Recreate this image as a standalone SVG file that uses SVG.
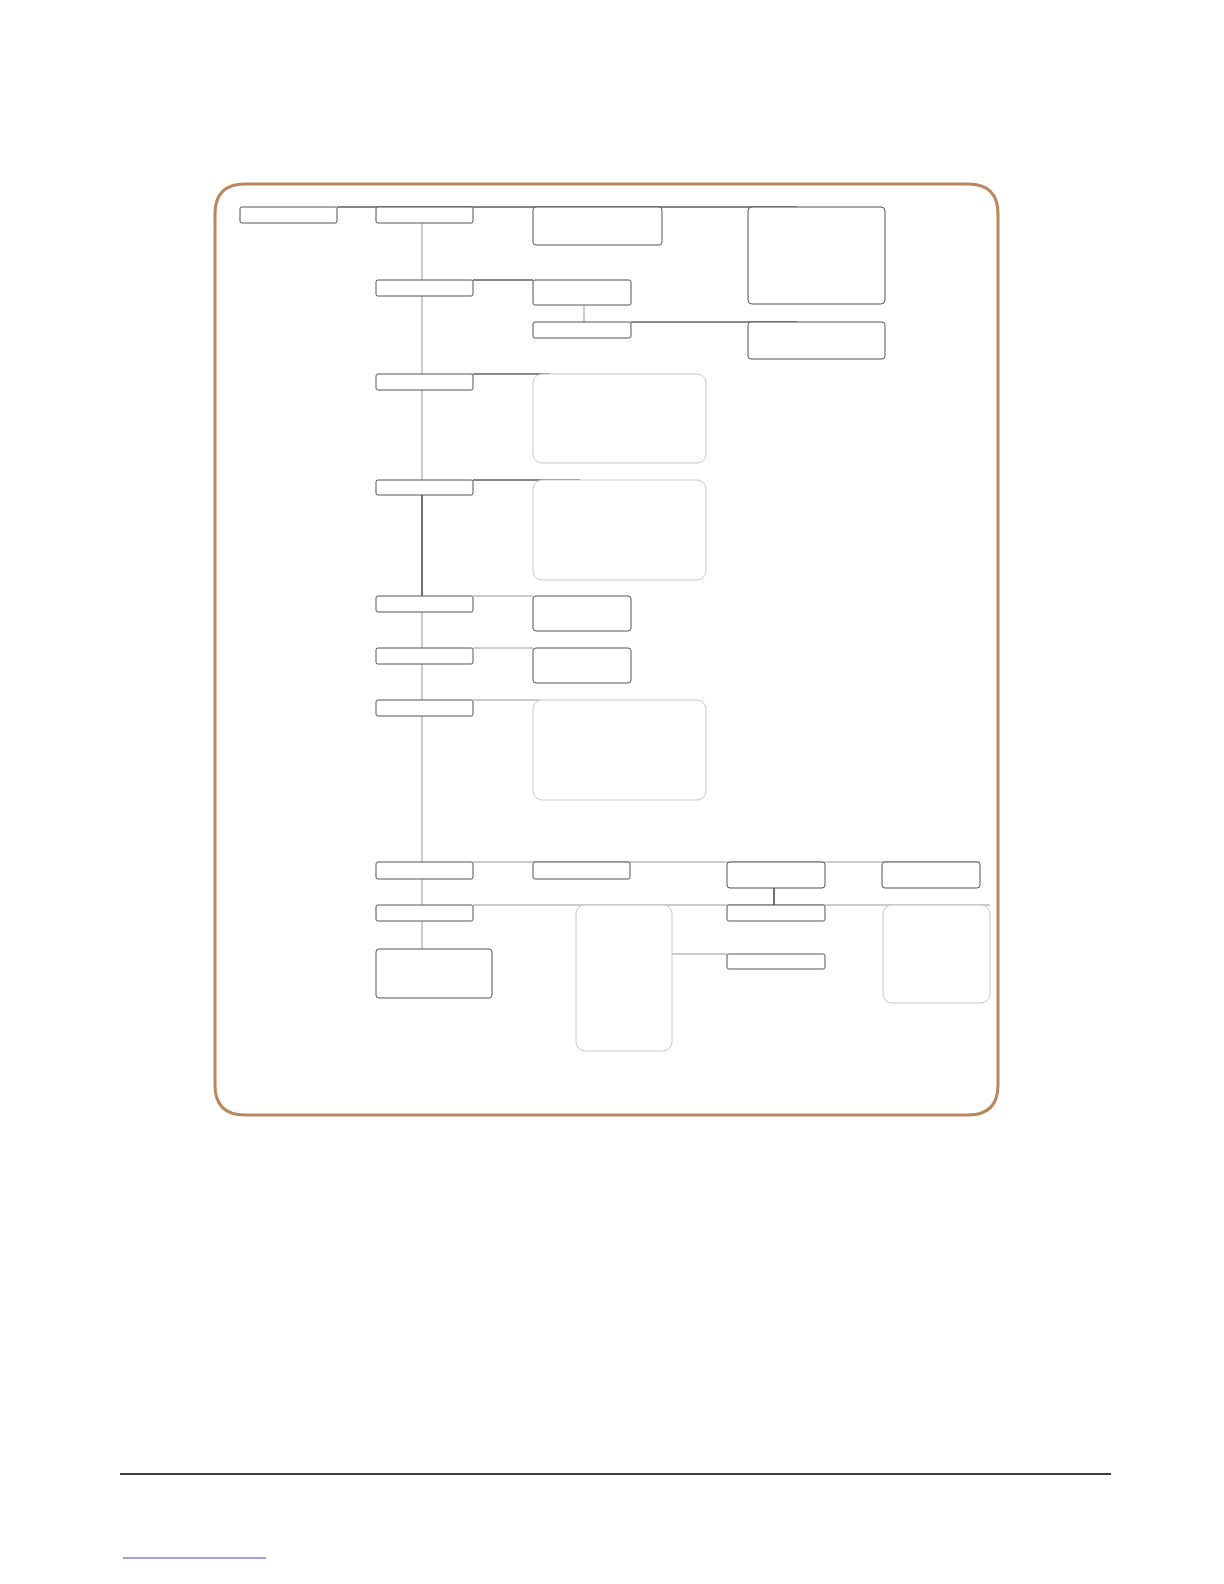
<svg xmlns="http://www.w3.org/2000/svg" width="1224" height="1584" viewBox="0 0 1224 1584">
<style>
.n{fill:#fff;stroke:#555;stroke-width:1}
.l{fill:#fff;stroke:#c8c8c8;stroke-width:1}
.c{fill:none;stroke:#111;stroke-width:1.2}
.g{fill:none;stroke:#999;stroke-width:1}
</style>
<rect width="1224" height="1584" fill="#fff"/>
<path id="frame" d="M245,184 H968 Q998,184 998,214 V1085 Q998,1115 968,1115 H245 Q215,1115 215,1085 V214 Q215,184 245,184 Z" fill="none" stroke="#b9875b" stroke-width="3"/>
<g id="connectors">
<line class="c" x1="337" y1="207" x2="797" y2="207"/>
<line class="g" x1="422" y1="223" x2="422" y2="480"/>
<line class="c" x1="422" y1="480" x2="422" y2="596"/>
<line class="g" x1="422" y1="596" x2="422" y2="862"/>
<line class="c" x1="473" y1="280" x2="533" y2="280"/>
<line class="g" x1="584" y1="305" x2="584" y2="322"/>
<line class="c" x1="631" y1="322" x2="797" y2="322"/>
<line class="c" x1="473" y1="374" x2="550" y2="374"/>
<line class="c" x1="473" y1="480" x2="580" y2="480"/>
<line class="g" x1="473" y1="596" x2="533" y2="596"/>
<line class="g" x1="473" y1="648" x2="533" y2="648"/>
<line class="g" x1="473" y1="700" x2="540" y2="700"/>
<line class="g" x1="473" y1="862" x2="980" y2="862"/>
<line class="g" x1="422" y1="879" x2="422" y2="949"/>
<line class="g" x1="473" y1="905" x2="990" y2="905"/>
<line class="c" x1="774" y1="888" x2="774" y2="905"/>
<line class="g" x1="672" y1="954" x2="727" y2="954"/>
</g>
<g id="nA"><rect class="n" x="240" y="207" width="97" height="16" rx="2"/></g>
<g id="nB"><rect class="n" x="376" y="207" width="97" height="16" rx="2"/></g>
<g id="nC"><rect class="n" x="533" y="207" width="129" height="38" rx="3"/></g>
<g id="nD"><rect class="n" x="748" y="207" width="137" height="97" rx="4"/></g>
<g id="nE"><rect class="n" x="376" y="280" width="97" height="16" rx="2"/></g>
<g id="nF"><rect class="n" x="533" y="280" width="98" height="25" rx="2"/></g>
<g id="nG"><rect class="n" x="533" y="322" width="98" height="16" rx="2"/></g>
<g id="nH"><rect class="n" x="748" y="322" width="137" height="37" rx="3"/></g>
<g id="nI"><rect class="n" x="376" y="374" width="97" height="16" rx="2"/></g>
<g id="nJ"><rect class="l" x="533" y="374" width="173" height="89" rx="9"/></g>
<g id="nK"><rect class="n" x="376" y="480" width="97" height="15" rx="2"/></g>
<g id="nL"><rect class="l" x="533" y="480" width="173" height="100" rx="9"/></g>
<g id="nM"><rect class="n" x="376" y="596" width="97" height="16" rx="2"/></g>
<g id="nN"><rect class="n" x="533" y="596" width="98" height="35" rx="3"/></g>
<g id="nO"><rect class="n" x="376" y="648" width="97" height="16" rx="2"/></g>
<g id="nP"><rect class="n" x="533" y="648" width="98" height="35" rx="3"/></g>
<g id="nQ"><rect class="n" x="376" y="700" width="97" height="16" rx="2"/></g>
<g id="nR"><rect class="l" x="533" y="700" width="173" height="100" rx="9"/></g>
<g id="nS"><rect class="n" x="376" y="862" width="97" height="17" rx="2"/></g>
<g id="nT"><rect class="n" x="533" y="862" width="97" height="17" rx="2"/></g>
<g id="nU"><rect class="n" x="727" y="862" width="98" height="26" rx="3"/></g>
<g id="nV"><rect class="n" x="882" y="862" width="98" height="26" rx="3"/></g>
<g id="nW"><rect class="n" x="376" y="905" width="97" height="16" rx="2"/></g>
<g id="nX"><rect class="l" x="576" y="905" width="96" height="146" rx="9"/></g>
<g id="nY"><rect class="n" x="727" y="905" width="98" height="16" rx="2"/></g>
<g id="nZ"><rect class="l" x="883" y="905" width="107" height="98" rx="9"/></g>
<g id="nAA"><rect class="n" x="727" y="954" width="98" height="15" rx="2"/></g>
<g id="nAB"><rect class="n" x="376" y="949" width="116" height="49" rx="3"/></g>
<line x1="120" y1="1474" x2="1111" y2="1474" stroke="#000" stroke-width="1.3"/>
<line x1="123" y1="1558" x2="266" y2="1558" stroke="#3344cc" stroke-width="1"/>
</svg>
